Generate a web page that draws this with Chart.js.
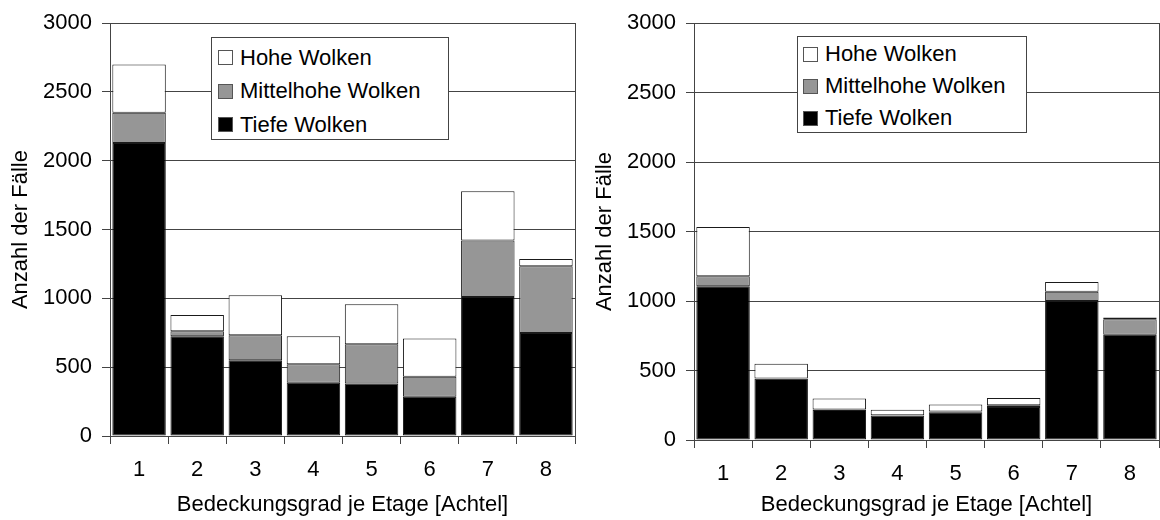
<!DOCTYPE html>
<html>
<head>
<meta charset="utf-8">
<script src="https://cdn.jsdelivr.net/npm/chart.js@4.4.1/dist/chart.umd.min.js"></script>
<style>
	body { margin: 0; background: #fff; }
	#wrap { position: relative; width: 1160px; height: 520px; overflow: hidden; font-family: "Liberation Sans", Arial, sans-serif; }
	.panel { position: absolute; top: 0; width: 580px; height: 520px; }
	.legend { position: absolute; background: #fff; border: 1px solid #444; box-sizing: border-box; }
	.legend .row { display: flex; align-items: center; font-size: 22px; color: #000; white-space: nowrap; }
	.legend .sw { width: 15px; height: 15px; border: 1px solid #555; box-sizing: border-box; margin-right: 7px; }
</style>
</head>
<body>
<div id="wrap">
	<div class="panel" style="left:0"><canvas id="chartLinks" width="580" height="520"></canvas></div>
	<div class="panel" style="left:580px"><canvas id="chartRechts" width="580" height="520"></canvas></div>
</div>
<script>
var categories = [ "1", "2", "3", "4", "5", "6", "7", "8" ];
var seriesNames = [ "Tiefe Wolken", "Mittelhohe Wolken", "Hohe Wolken" ];

// linkes Diagramm
var tiefeLinks = [ 2130, 725, 550, 387, 382, 285, 1010, 749 ];
var mittelLinks = [ 220, 36, 182, 135, 285, 145, 411, 484 ];
var hoheLinks = [ 350, 119, 290, 203, 290, 278, 358, 53 ];

// rechtes Diagramm
var tiefeRechts = [ 1107, 440, 216, 176, 200, 238, 1000, 757 ];
var mittelRechts = [ 72, 3, 3, 2, 5, 12, 67, 112 ];
var hoheRechts = [ 354, 105, 80, 40, 50, 52, 71, 12 ];

var yMax = 3000;
var yStep = 500;
var yTitle = "Anzahl der Fälle";
var xTitle = "Bedeckungsgrad je Etage [Achtel]";

var fillColors = [ "#000000", "#969696", "#ffffff" ];
var fontFamily = "'Liberation Sans', Arial, sans-serif";
var fontSize = 22;

var plotFrame = {
	id : "plotFrame",
	afterDatasetsDraw : function(chart) {
		var a = chart.chartArea;
		var ctx = chart.ctx;
		ctx.save();
		ctx.strokeStyle = "#444";
		ctx.lineWidth = 1;
		ctx.strokeRect(Math.round(a.left) + 0.5, Math.round(a.top) + 0.5,
				Math.round(a.right - a.left), Math.round(a.bottom - a.top));
		ctx.restore();
	}
};

function buildLegend(chart, box) {
	var div = document.createElement("div");
	div.className = "legend";
	div.style.left = box.x + "px";
	div.style.top = box.y + "px";
	div.style.width = box.w + "px";
	div.style.height = box.h + "px";
	div.style.paddingTop = box.padTop + "px";
	div.style.paddingLeft = box.padLeft + "px";
	var ds = chart.data.datasets.slice().reverse();
	ds.forEach(function(d) {
		var row = document.createElement("div");
		row.className = "row";
		row.style.height = box.rowH + "px";
		var sw = document.createElement("span");
		sw.className = "sw";
		sw.style.background = d.backgroundColor;
		var label = document.createElement("span");
		label.textContent = d.label;
		row.appendChild(sw);
		row.appendChild(label);
		div.appendChild(row);
	});
	document.getElementById("wrap").appendChild(div);
}

function renderChart(canvasId, tiefe, mittel, hohe, frame, legendBox) {
	var values = [ tiefe, mittel, hohe ];
	var datasets = values.map(function(v, i) {
		return {
			label : seriesNames[i],
			data : v,
			backgroundColor : fillColors[i],
			borderColor : "#1a1a1a",
			borderWidth : 1,
			borderSkipped : false,
			barPercentage : 0.92,
			categoryPercentage : 1.0
		};
	});

	var chart = new Chart(document.getElementById(canvasId), {
		type : "bar",
		data : {
			labels : categories,
			datasets : datasets
		},
		options : {
			responsive : false,
			animation : false,
			events : [],
			layout : {
				padding : {
					top : frame.top,
					right : 580 - frame.right,
					left : 0,
					bottom : 0
				}
			},
			plugins : {
				legend : { display : false },
				tooltip : { enabled : false }
			},
			scales : {
				x : {
					stacked : true,
					offset : true,
					grid : {
						offset : true,
						drawOnChartArea : false,
						color : "#444",
						tickLength : 8
					},
					border : { color : "#444" },
					ticks : {
						color : "#000",
						padding : 13,
						font : { family : fontFamily, size : fontSize }
					},
					title : {
						display : true,
						text : xTitle,
						color : "#000",
						padding : { top : 0, bottom : 2 },
						font : { family : fontFamily, size : fontSize }
					},
					afterFit : function(s) {
						s.height = 520 - frame.bottom;
					}
				},
				y : {
					stacked : true,
					min : 0,
					max : yMax,
					grid : {
						color : "#444",
						tickLength : 8
					},
					border : { color : "#444" },
					ticks : {
						stepSize : yStep,
						color : "#000",
						padding : 10,
						font : { family : fontFamily, size : fontSize },
						callback : function(value) {
							return String(value);
						}
					},
					title : {
						display : true,
						text : yTitle,
						color : "#000",
						padding : { top : frame.titlePad, bottom : 0 },
						font : { family : fontFamily, size : fontSize }
					},
					afterFit : function(s) {
						s.width = frame.left;
					}
				}
			}
		},
		plugins : [ plotFrame ]
	});

	buildLegend(chart, legendBox);
	return chart;
}

renderChart("chartLinks", tiefeLinks, mittelLinks, hoheLinks,
		{ left : 110, right : 575, top : 22, bottom : 436, titlePad : 8 },
		{ x : 211, y : 37, w : 238, h : 103, rowH : 33.5, padTop : 3, padLeft : 6 });

renderChart("chartRechts", tiefeRechts, mittelRechts, hoheRechts,
		{ left : 114, right : 579, top : 20, bottom : 440, titlePad : 12 },
		{ x : 797, y : 36, w : 230, h : 97, rowH : 32, padTop : 1, padLeft : 5 });
</script>
</body>
</html>
